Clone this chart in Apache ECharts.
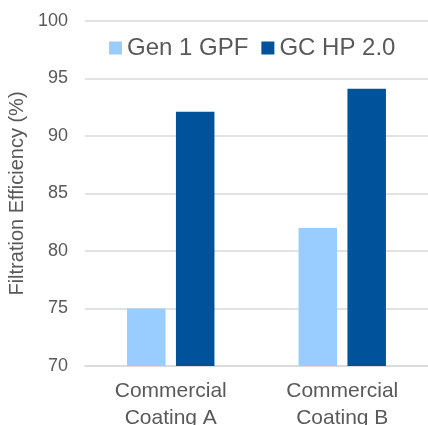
<!DOCTYPE html>
<html>
<head>
<meta charset="utf-8">
<script src="https://cdn.jsdelivr.net/npm/echarts@6/dist/echarts.min.js"></script>
<style>html,body{margin:0;padding:0;background:#fff;}#c{width:428px;height:425px;}</style>
</head>
<body>
<div id="c"></div>
<script>
const categories = ['Commercial\nCoating A', 'Commercial\nCoating B'];
const seriesNames = ['Gen 1 GPF', 'GC HP 2.0'];
const gen1Values = [75, 82];
const gchpValues = [92.1, 94.1];
const yTitle = 'Filtration Efficiency (%)';

const chart = echarts.init(document.getElementById('c'), null, {renderer: 'canvas'});
const font = 'Liberation Sans, Arial, sans-serif';
chart.setOption({
  animation: false,
  backgroundColor: '#fff',
  textStyle: {fontFamily: font},
  legend: {
    left: 104, top: 31,
    itemWidth: 13, itemHeight: 13, itemGap: 13,
    icon: 'rect',
    textStyle: {fontSize: 24, color: '#595959', fontFamily: font},
    data: seriesNames
  },
  grid: {left: 85, right: 0, top: 21, bottom: 59, containLabel: false, outerBoundsMode: 'none'},
  xAxis: {
    type: 'category',
    data: categories,
    axisTick: {show: false},
    axisLine: {lineStyle: {color: '#D9D9D9', width: 1.5}},
    axisLabel: {fontSize: 21, color: '#595959', lineHeight: 27, margin: 12, fontFamily: font}
  },
  yAxis: {
    type: 'value', min: 70, max: 100, interval: 5,
    name: yTitle, nameLocation: 'middle', nameGap: 57,
    nameTextStyle: {fontSize: 20, color: '#595959', fontFamily: font},
    axisLine: {show: false}, axisTick: {show: false},
    axisLabel: {fontSize: 18, color: '#595959', margin: 17, fontFamily: font},
    splitLine: {lineStyle: {color: '#D9D9D9', width: 1.5}}
  },
  series: [
    {name: seriesNames[0], type: 'bar', data: gen1Values, barWidth: 38.5, barGap: '27%', itemStyle: {color: '#99CCFF'}},
    {name: seriesNames[1], type: 'bar', data: gchpValues, barWidth: 38.5, barGap: '27%', itemStyle: {color: '#00529B'}}
  ]
});
</script>
</body>
</html>
